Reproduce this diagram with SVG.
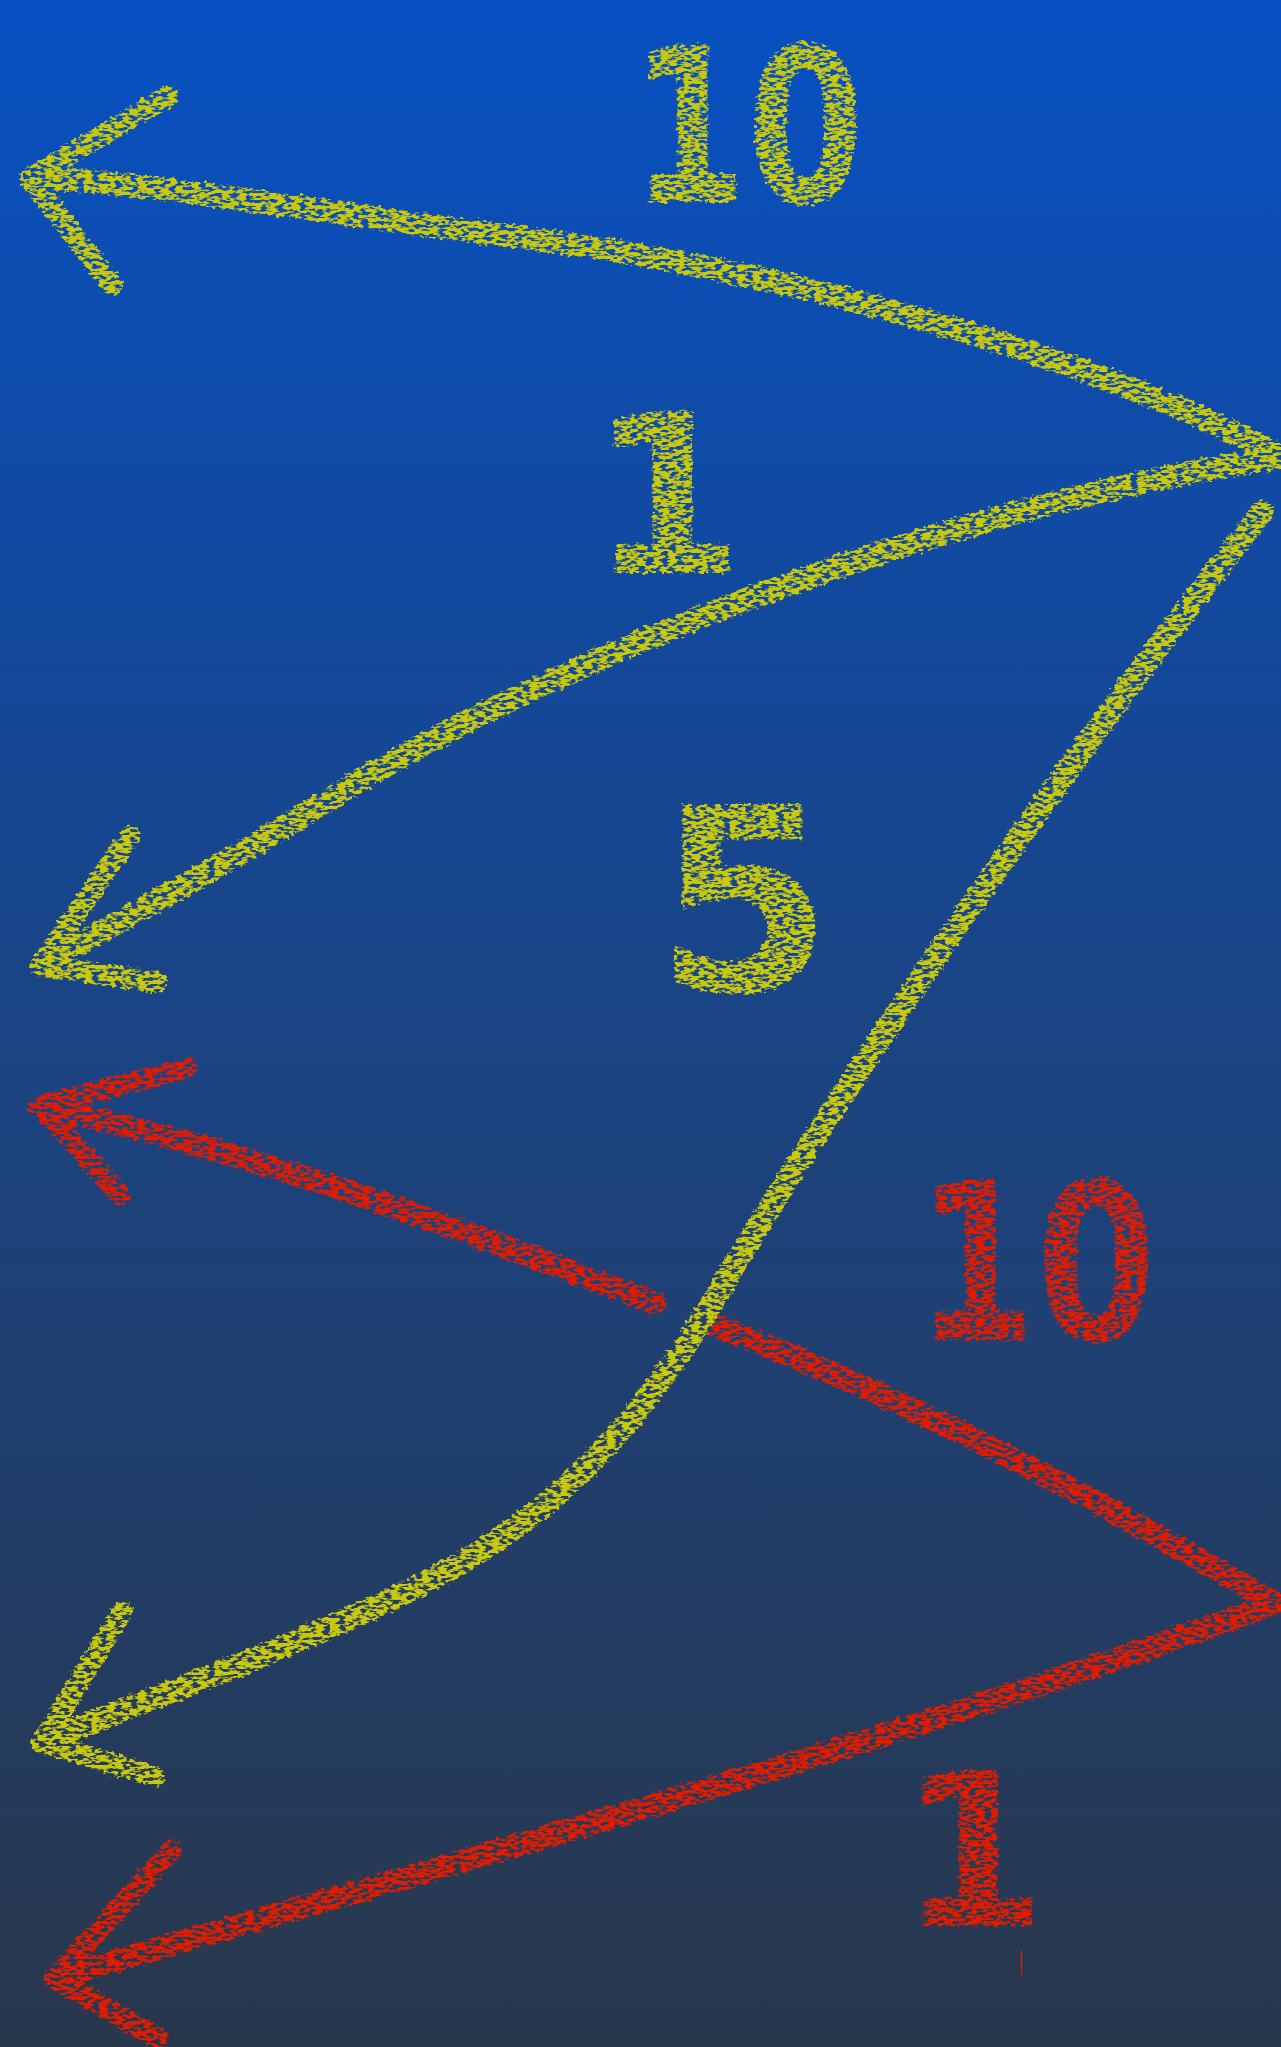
<svg xmlns="http://www.w3.org/2000/svg" width="1281" height="2047" viewBox="0 0 1281 2047">
  <defs>
    <linearGradient id="bg" x1="0" y1="0" x2="0" y2="1">
      <stop offset="0" stop-color="#0750c2"/>
      <stop offset="0.5" stop-color="#1a4484"/>
      <stop offset="1" stop-color="#29374c"/>
    </linearGradient>
    <filter id="chalk" x="-5%" y="-5%" width="110%" height="110%">
      <feTurbulence type="fractalNoise" baseFrequency="0.25" numOctaves="2" seed="4" result="noise"/>
      <feDisplacementMap in="SourceGraphic" in2="noise" scale="8" xChannelSelector="R" yChannelSelector="G" result="rough"/>
      <feTurbulence type="fractalNoise" baseFrequency="0.13 0.32" numOctaves="2" seed="9" result="n2"/>
      <feColorMatrix in="n2" type="matrix" values="0 0 0 0 0  0 0 0 0 0  0 0 0 0 0  8 0 0 0 -3.2" result="holes"/>
      <feComposite in="rough" in2="holes" operator="in"/>
    </filter>
    <style>
      .y { stroke: #c8c80c; }
      .r { stroke: #e01e00; }
      .line { fill: none; stroke-width: 23; stroke-linecap: round; stroke-linejoin: round; }
      .head { fill: none; stroke-width: 21; stroke-linecap: round; stroke-linejoin: round; }
      .lbl { font-family: "DejaVu Sans", "Liberation Sans", sans-serif; font-weight: bold; }
      .ly { fill: #c8c80c; }
      .lr { fill: #e01e00; }
    </style>
  </defs>
  <rect x="0" y="0" width="1281" height="2047" fill="url(#bg)"/>

  <g id="connectors" filter="url(#chalk)">
    <g id="edge-red-10">
      <path class="line r" d="M1274,1603 C1100,1500 900,1395 714,1325"/>
      <path class="line r" d="M655,1303 C450,1225 250,1150 40,1107"/>
      <path class="head r" d="M187,1068 L40,1106 L120,1195"/>
    </g>
    <g id="edge-red-1">
      <path class="line r" d="M1275,1603 C900,1740 500,1850 55,1978"/>
      <path class="head r" d="M172,1850 L55,1978 L157,2038"/>
    </g>
    <g id="edge-yellow-10">
      <path class="line y" d="M1278,455 C1100,360 800,270 500,235 C320,212 150,182 32,178"/>
      <path class="head y" d="M168,96 L30,178 L112,285"/>
    </g>
    <g id="edge-yellow-1">
      <path class="line y" d="M1278,458 C980,500 580,640 320,805 C190,885 100,930 42,966"/>
      <path class="head y" d="M130,836 L40,966 L157,982"/>
    </g>
    <g id="edge-yellow-5">
      <path class="line y" d="M1262,512 C1050,780 820,1120 720,1290 C620,1460 520,1540 390,1600 C260,1660 120,1710 42,1742"/>
      <path class="head y" d="M122,1612 L42,1742 L154,1776"/>
    </g>
  </g>

  <g id="labels" filter="url(#chalk)">
    <g id="label-yellow-10"><text class="lbl ly" x="630" y="202" font-size="216" textLength="234" lengthAdjust="spacingAndGlyphs">10</text></g>
    <g id="label-yellow-1"><text class="lbl ly" x="667" y="573" font-size="222" text-anchor="middle">1</text></g>
    <g id="label-yellow-5"><text class="lbl ly" x="744" y="990" font-size="255" text-anchor="middle">5</text></g>
    <g id="label-red-10"><text class="lbl lr" x="916" y="1340" font-size="220" textLength="240" lengthAdjust="spacingAndGlyphs">10</text></g>
    <g id="label-red-1"><text class="lbl lr" x="973" y="1926" font-size="214" text-anchor="middle">1</text></g>
  </g>
  <line x1="1021.5" y1="1950" x2="1021.5" y2="1975" stroke="#e01e00" stroke-width="1.2"/>
</svg>
